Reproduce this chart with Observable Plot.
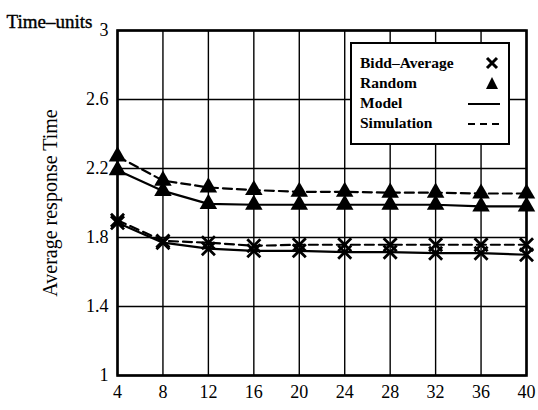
<!DOCTYPE html>
<html><head><meta charset="utf-8">
<script src="https://cdn.jsdelivr.net/npm/d3@7"></script>
<script src="https://cdn.jsdelivr.net/npm/@observablehq/plot@0.6"></script>
<style>
body{margin:0;background:#fff}
#wrap{position:relative;width:538px;height:410px;font-family:"Liberation Serif","Times New Roman",serif}
#legend{position:absolute;left:350px;top:42px;width:160px;height:103px;border:2.5px solid #000;background:#fff;box-sizing:border-box;font-weight:bold;font-size:15.5px}
#legend .row{position:absolute;left:8px;height:20px;line-height:20px;width:142px}
#legend svg{position:absolute;right:0;top:2px}
</style>
</head><body><div id="wrap"></div>
<script>
const nodes=[4,8,12,16,20,24,28,32,36,40];
const biddModel=[1.885,1.77,1.735,1.723,1.723,1.715,1.715,1.709,1.709,1.70];
const biddSim=[1.90,1.78,1.77,1.752,1.758,1.758,1.758,1.758,1.758,1.758];
const randomModel=[2.19,2.07,1.995,1.99,1.99,1.99,1.99,1.99,1.98,1.98];
const randomSim=[2.27,2.13,2.09,2.075,2.065,2.065,2.06,2.06,2.055,2.055];
const yTicks=[1,1.4,1.8,2.2,2.6,3];
const yLabel="Average response Time";
const unitLabel="Time–units";
const legendItems=["Bidd–Average","Random","Model","Simulation"];

const rows=(vals)=>nodes.map((n,i)=>({n,v:vals[i]}));
const bm=rows(biddModel),bs=rows(biddSim),rm=rows(randomModel),rs=rows(randomSim);

const chart=Plot.plot({
  width:538,height:410,
  marginLeft:117,marginRight:12,marginTop:30,marginBottom:35,
  style:{fontFamily:'"Liberation Serif","Times New Roman",serif',fontSize:"18px",color:"black",background:"white"},
  x:{domain:[4,40],ticks:nodes,tickSize:0,tickPadding:10,label:null},
  y:{domain:[1,3],ticks:yTicks,tickSize:0,tickPadding:9,label:null,tickFormat:d=>String(d)},
  marks:[
    Plot.gridX(nodes,{stroke:"black",strokeOpacity:1,strokeWidth:1.4}),
    Plot.gridY(yTicks,{stroke:"black",strokeOpacity:1,strokeWidth:1.4}),
    Plot.frame({stroke:"black",strokeWidth:2.6}),
    Plot.line(bm,{x:"n",y:"v",stroke:"black",strokeWidth:2.2}),
    Plot.line(bs,{x:"n",y:"v",stroke:"black",strokeWidth:2.2,strokeDasharray:"9,5"}),
    Plot.line(rm,{x:"n",y:"v",stroke:"black",strokeWidth:2.2}),
    Plot.line(rs,{x:"n",y:"v",stroke:"black",strokeWidth:2.2,strokeDasharray:"9,5"}),
    Plot.dot(bm,{x:"n",y:"v",symbol:"times",r:6,stroke:"black",strokeWidth:2.8}),
    Plot.dot(bs,{x:"n",y:"v",symbol:"times",r:6,stroke:"black",strokeWidth:2.8}),
    Plot.dot(rm,{x:"n",y:"v",symbol:"triangle",r:6.5,fill:"black",stroke:"none"}),
    Plot.dot(rs,{x:"n",y:"v",symbol:"triangle",r:6.5,fill:"black",stroke:"none"}),
    Plot.text([yLabel],{frameAnchor:"left",dx:-67,rotate:-90,textAnchor:"middle",fontSize:20,fill:"black"}),
    Plot.text([unitLabel],{frameAnchor:"top-left",dx:-111,dy:-16,textAnchor:"start",fontSize:19,fill:"black",stroke:"black",strokeWidth:0.4})
  ]
});
const wrap=document.getElementById("wrap");
wrap.appendChild(chart);

const symbols=[
  '<svg width="20" height="16"><path d="M5,3L15,13M15,3L5,13" stroke="black" stroke-width="3"/></svg>',
  '<svg width="20" height="16"><path d="M10,2L16,14L4,14Z" fill="black"/></svg>',
  '<svg width="36" height="16"><path d="M2,9H34" stroke="black" stroke-width="2"/></svg>',
  '<svg width="36" height="16"><path d="M2,9H34" stroke="black" stroke-width="2" stroke-dasharray="7,5"/></svg>'
];
const lg=document.createElement("div");lg.id="legend";
legendItems.forEach((t,i)=>{
  const r=document.createElement("div");r.className="row";r.style.top=(9+i*20)+"px";
  r.innerHTML='<span>'+t+'</span>'+symbols[i];
  lg.appendChild(r);
});
wrap.appendChild(lg);
</script>
</body></html>
